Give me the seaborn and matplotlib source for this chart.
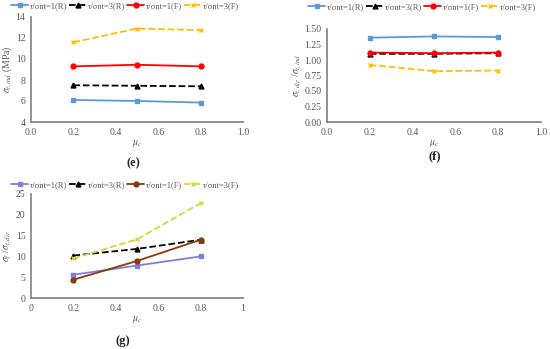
import matplotlib
matplotlib.use("Agg")
import matplotlib.pyplot as plt
import seaborn as sns
import numpy as np

sns.set_theme(style="white")
plt.rcParams['font.family'] = ['Liberation Serif', 'DejaVu Serif']
plt.rcParams['mathtext.fontset'] = 'stix'

mu = [0.2, 0.5, 0.8]
labels = ["τ/σnt=1(R)", "τ/σnt=3(R)", "τ/σnt=1(F)", "τ/σnt=3(F)"]

e_r1 = [6.1, 6.0, 5.85]
e_r3 = [7.5, 7.45, 7.4]
e_f1 = [9.3, 9.45, 9.3]
e_f3 = [11.6, 12.9, 12.75]

f_r1 = [1.36, 1.38, 1.37]
f_r3 = [1.10, 1.10, 1.11]
f_f1 = [1.12, 1.11, 1.12]
f_f3 = [0.92, 0.82, 0.83]

g_r1 = [5.6, 7.8, 10.0]
g_r3 = [10.2, 11.8, 14.0]
g_f1 = [4.4, 8.9, 14.0]
g_f3 = [9.5, 14.1, 22.8]

W, H = 550, 349
fig = plt.figure(figsize=(5.5, 3.49), dpi=100)

def ax_px(x0, x1, y0, y1):
    return fig.add_axes([x0 / W, 1 - y1 / H, (x1 - x0) / W, (y1 - y0) / H])

styles_ef = [
    dict(color="#5b9bd5", marker="s", linestyle="-"),
    dict(color="#000000", marker="^", linestyle="--"),
    dict(color="#ff0000", marker="o", linestyle="-"),
    dict(color="#ffc000", marker="x", linestyle="--"),
]
styles_g = [
    dict(color="#7f7fe0", marker="s", linestyle="-"),
    dict(color="#000000", marker="^", linestyle="--"),
    dict(color="#843c0c", marker="o", linestyle="-"),
    dict(color="#d4d83a", marker="x", linestyle="--"),
]

def panel(ax, series, styles, ylim, yticks, yfmt, xticks, xfmt, ylabel, tag, tagxy, legxy):
    for vals, st, lab in zip(series, styles, labels):
        sns.lineplot(x=mu, y=vals, ax=ax, color=st["color"], marker=st["marker"],
                     linestyle=st["linestyle"], linewidth=1.3, markersize=3.5,
                     markeredgecolor=st["color"], markeredgewidth=1.0, label=lab,
                     legend=False)
    ax.set_xlim(0, 1)
    ax.set_ylim(*ylim)
    ax.set_xticks(xticks)
    ax.set_xticklabels([xfmt(v) for v in xticks])
    ax.set_yticks(yticks)
    ax.set_yticklabels([yfmt(v) for v in yticks])
    for s in ["top", "right"]:
        ax.spines[s].set_visible(False)
    for s in ["left", "bottom"]:
        ax.spines[s].set_color("#7f7f7f")
        ax.spines[s].set_linewidth(1.2)
    ax.tick_params(axis="both", labelsize=7, colors="#595959", length=0, pad=4)
    ax.set_xlabel(r"$\mu_c$", fontsize=7, color="#595959", labelpad=1)
    ax.set_ylabel(ylabel, fontsize=7, color="#595959", labelpad=1)
    h, l = ax.get_legend_handles_labels()
    fig.legend(h, l, loc="center", bbox_to_anchor=(legxy[0] / W, 1 - legxy[1] / H),
               ncol=4, frameon=False, fontsize=6, handlelength=2.0, columnspacing=0.3,
               handletextpad=0.2, labelcolor="#595959", borderpad=0.1, borderaxespad=0)
    fig.text(tagxy[0] / W, 1 - tagxy[1] / H, tag, ha="center", va="center",
             fontsize=9, fontweight="bold", color="#222222")

ax_e = ax_px(31, 243, 17, 122)
panel(ax_e, [e_r1, e_r3, e_f1, e_f3], styles_ef, (4, 14), [4, 6, 8, 10, 12, 14],
      lambda v: f"{v:g}", [0, 0.2, 0.4, 0.6, 0.8, 1.0], lambda v: f"{v:.1f}",
      r"$\sigma_{t,ind}$ (MPa)", "(e)", (133, 163), (125, 6))

ax_f = ax_px(327, 541, 29, 122)
panel(ax_f, [f_r1, f_r3, f_f1, f_f3], styles_ef, (0, 1.5), [0, 0.25, 0.5, 0.75, 1.0, 1.25, 1.5],
      lambda v: f"{v:.2f}", [0, 0.2, 0.4, 0.6, 0.8, 1.0], lambda v: f"{v:.1f}",
      r"$\sigma_{t,dir}$ /$\sigma_{t,ind}$", "(f)", (435, 156), (422, 7))

ax_g = ax_px(31, 243, 194, 298)
panel(ax_g, [g_r1, g_r3, g_f1, g_f3], styles_g, (0, 25), [0, 5, 10, 15, 20, 25],
      lambda v: f"{v:g}", [0, 0.2, 0.4, 0.6, 0.8, 1.0], lambda v: f"{v:g}",
      r"$\sigma_f$ /$\sigma_{t,dir}$", "(g)", (123, 341), (125, 185))

fig.savefig("out.png", dpi=100)
